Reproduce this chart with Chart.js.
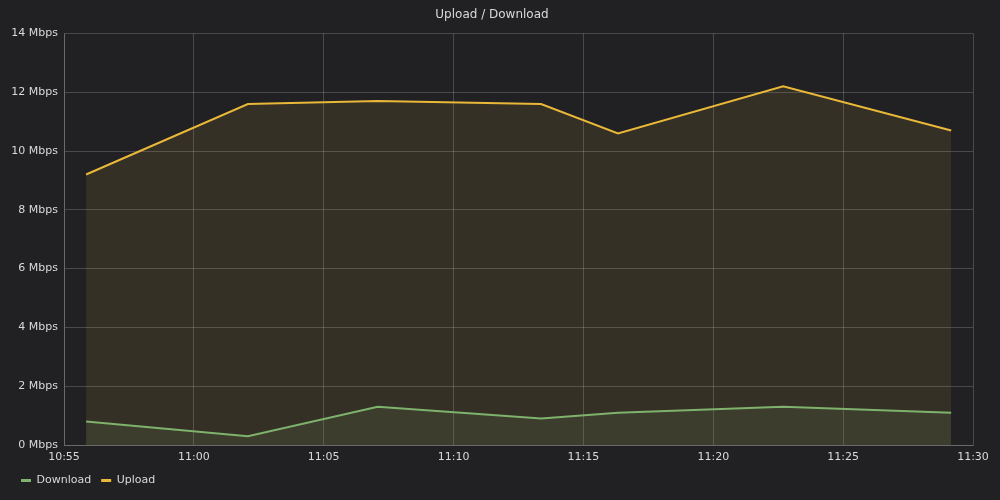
<!DOCTYPE html>
<html>
<head>
<meta charset="utf-8">
<script src="https://cdn.jsdelivr.net/npm/chart.js@4/dist/chart.umd.min.js"></script>
<style>
  html, body { margin: 0; padding: 0; background: #212124; }
  #wrap { width: 1000px; height: 500px; }
</style>
</head>
<body>
<div id="wrap"><canvas id="chart"></canvas></div>
<script>
        // Data (minutes after 10:55)
        const sampleMinutes = [0.85, 7.08, 12.08, 18.37, 21.33, 27.69, 34.16];
        const uploadMbps = [9.2, 11.6, 11.7, 11.6, 10.6, 12.2, 10.7];
        const downloadMbps = [0.8, 0.3, 1.3, 0.9, 1.1, 1.3, 1.1];
        const timeLabels = ['10:55', '11:00', '11:05', '11:10', '11:15', '11:20', '11:25', '11:30'];

        const textColor = '#d8d9da';
        const gridColor = 'rgba(255,255,255,0.18)';

        Chart.defaults.font.family = '"DejaVu Sans", sans-serif';
        Chart.defaults.font.size = 11;
        Chart.defaults.color = textColor;

        const toPoints = (vals) => vals.map((v, i) => ({ x: sampleMinutes[i], y: v }));

        const ctx = document.getElementById('chart').getContext('2d');
        new Chart(ctx, {
            type: 'line',
            data: {
                datasets: [{
                    label: 'Download',
                    data: toPoints(downloadMbps),
                    borderColor: '#7eb26d',
                    backgroundColor: 'rgba(126,178,109,0.1)',
                    fill: 'origin',
                    borderWidth: 2,
                    pointRadius: 0,
                    tension: 0
                }, {
                    label: 'Upload',
                    data: toPoints(uploadMbps),
                    borderColor: '#eab839',
                    backgroundColor: 'rgba(234,184,57,0.1)',
                    fill: 'origin',
                    borderWidth: 2,
                    pointRadius: 0,
                    tension: 0
                }]
            },
            options: {
                responsive: true,
                maintainAspectRatio: false,
                animation: false,
                layout: { padding: { left: 11, right: 27, top: 0, bottom: 4 } },
                scales: {
                    x: {
                        type: 'linear',
                        min: 0,
                        max: 35,
                        ticks: {
                            stepSize: 5,
                            color: textColor,
                            maxRotation: 0,
                            padding: 6,
                            callback: (v) => timeLabels[Math.round(v / 5)]
                        },
                        grid: { color: gridColor, drawTicks: false },
                        border: { color: gridColor },
                        afterFit: (s) => { s.height = 20; }
                    },
                    y: {
                        min: 0,
                        max: 14,
                        ticks: {
                            stepSize: 2,
                            color: textColor,
                            padding: 6,
                            callback: (v) => v + ' Mbps'
                        },
                        grid: { color: gridColor, drawTicks: false },
                        border: { color: gridColor },
                        afterFit: (s) => { s.width = 53; }
                    }
                },
                plugins: {
                    title: {
                        display: true,
                        text: 'Upload / Download',
                        color: textColor,
                        font: { size: 12, weight: 'normal' },
                        padding: { top: 8, bottom: 11 }
                    },
                    legend: {
                        position: 'bottom',
                        align: 'start',
                        labels: {
                            color: textColor,
                            boxWidth: 10,
                            boxHeight: 3,
                            padding: 10,
                            generateLabels: (chart) => chart.data.datasets.map((ds, i) => ({
                                text: ds.label,
                                fillStyle: ds.borderColor,
                                strokeStyle: ds.borderColor,
                                lineWidth: 0,
                                fontColor: textColor,
                                datasetIndex: i
                            }))
                        }
                    },
                    tooltip: { enabled: false }
                }
            }
        });
</script>
</body>
</html>
